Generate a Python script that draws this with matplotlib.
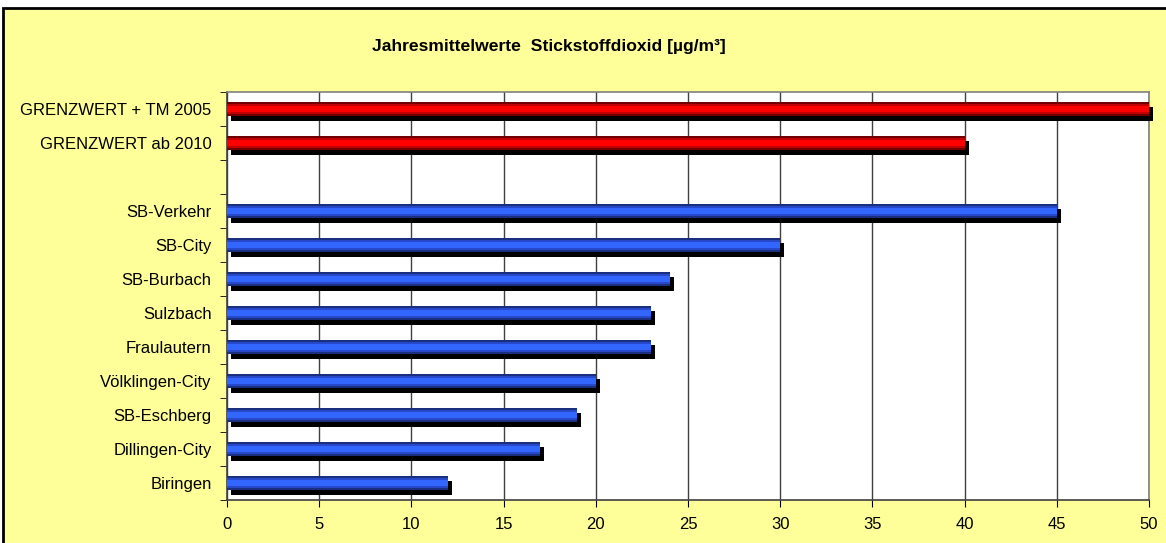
import matplotlib
matplotlib.use("Agg")
import matplotlib.pyplot as plt
import matplotlib.transforms as mtransforms
from matplotlib.patches import Rectangle
import numpy as np

plt.rcParams['font.family'] = ['Liberation Sans', 'DejaVu Sans']

# data, top to bottom ('' is the empty slot between the groups)
stations = ['GRENZWERT + TM 2005', 'GRENZWERT ab 2010', '',
            'SB-Verkehr', 'SB-City', 'SB-Burbach', 'Sulzbach', 'Fraulautern',
            'Völklingen-City', 'SB-Eschberg', 'Dillingen-City', 'Biringen']
values = [50, 40, 0, 45, 30, 24, 23, 23, 20, 19, 17, 12]
is_limit = [True, True, False, False, False, False, False, False, False, False, False, False]

title = 'Jahresmittelwerte  Stickstoffdioxid [µg/m³]'

fig = plt.figure(figsize=(11.66, 5.43), dpi=100, facecolor='white')
# yellow chart area with black frame (runs off right/bottom edge)
fig.patches.append(Rectangle((3/1166, -0.05), 1.2, 1 - 8/543 + 0.05,
                             transform=fig.transFigure, facecolor='#FFFF99',
                             edgecolor='black', linewidth=2, zorder=-10))

ax = fig.add_axes([227/1166, 1 - 500/543, 922/1166, 408/543])
ax.set_facecolor('white')

y = np.arange(len(stations))
h = 0.39
vals = np.array(values, dtype=float)
mask = vals > 0

# shadow, shifted right and down
shadow = mtransforms.offset_copy(ax.transData, fig=fig, x=4, y=-5, units='dots')
ax.barh(y[mask], vals[mask], height=h, color='black', transform=shadow,
        zorder=3, clip_on=False)

# bars with darker top/bottom edges (layered)
red_layers = ['#700000', '#C00000', '#FF0000']
blue_layers = ['#1A2F80', '#2748C8', '#3366FF']
for i in range(len(stations)):
    if not mask[i]:
        continue
    layers = red_layers if is_limit[i] else blue_layers
    for k, c in enumerate(layers):
        ax.barh(y[i], vals[i], height=h * (1 - 0.3 * k), color=c,
                zorder=4 + k, clip_on=False)

ax.set_xlim(0, 50)
ax.set_ylim(len(stations) - 0.5, -0.5)
ax.set_xticks(np.arange(0, 51, 5))
ax.set_yticks(y)
ax.set_yticklabels(stations)
ax.set_yticks(np.arange(-0.5, len(stations), 1), minor=True)
ax.tick_params(axis='y', which='major', length=0, pad=11, labelsize=12)
ax.tick_params(axis='y', which='minor', length=5, direction='out', color='black')
ax.tick_params(axis='x', length=5, direction='out', labelsize=12, pad=7)
ax.grid(axis='x', color='#404040', linewidth=1, zorder=1)
ax.set_axisbelow(True)
for s in ['top', 'right']:
    ax.spines[s].set_color('#808080')
for s in ['left', 'bottom']:
    ax.spines[s].set_color('#404040')
for s in ax.spines.values():
    s.set_linewidth(1.2)

fig.text(549/1166, 1 - 46/543, title, ha='center', va='center',
         fontsize=12.6, fontweight='bold')

fig.savefig('out.png', dpi=100, facecolor='white')
